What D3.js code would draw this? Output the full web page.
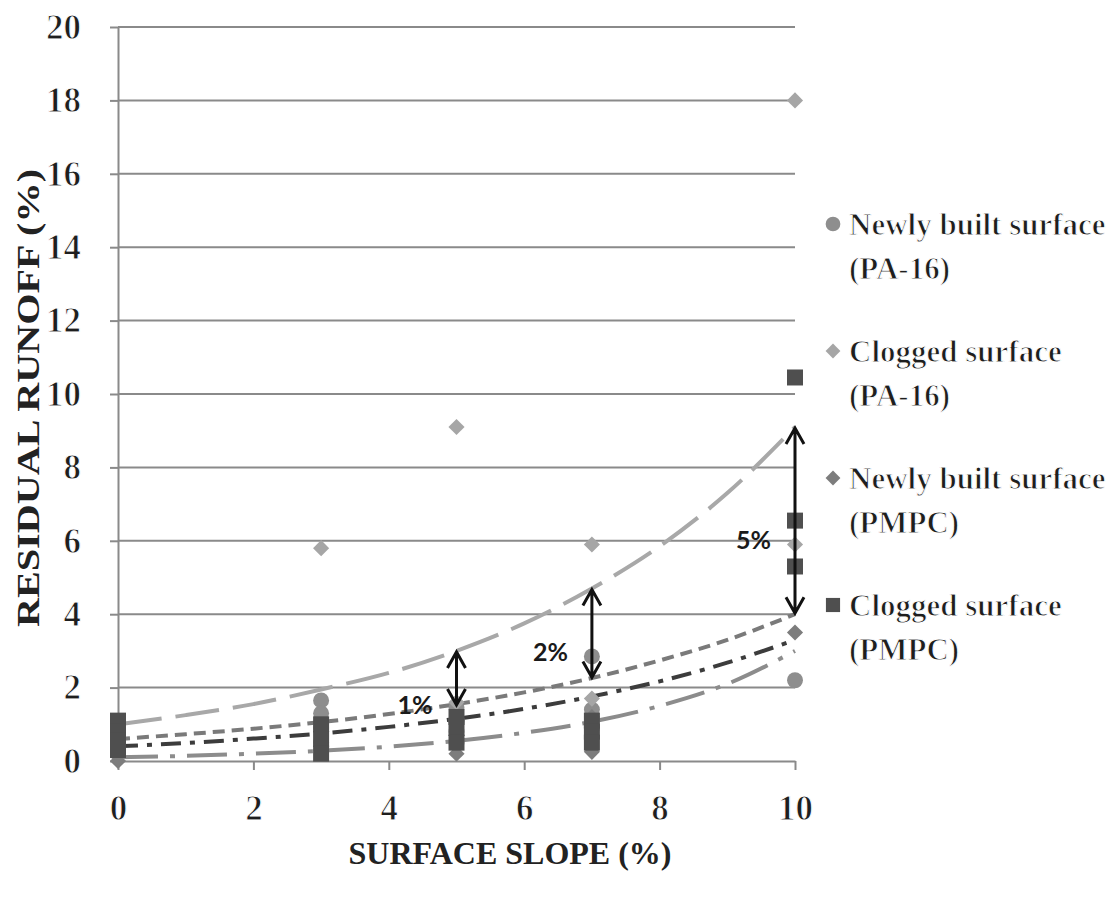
<!DOCTYPE html>
<html>
<head>
<meta charset="utf-8">
<script src="https://cdn.jsdelivr.net/npm/d3@7"></script>
<style>
    body { margin: 0; background: #fff; }
    .grid line { stroke: #8a8a8a; stroke-width: 2; }
    .axis path, .axis line { stroke: #8a8a8a; stroke-width: 2; }
    .trend { fill: none; stroke-width: 4; }
    .arrow { stroke: #111; stroke-width: 3; fill: none; }
</style>
</head>
<body>
<div id="chart"></div>
<script>

// tick values
var xTicks = [0, 2, 4, 6, 8, 10];
var yTicks = [0, 2, 4, 6, 8, 10, 12, 14, 16, 18, 20];

var newPA16X = [0, 0, 0, 3, 3, 3, 3, 5, 5, 5, 5, 7, 7, 7, 10];
var newPA16Y = [0.8, 0.5, 0.2, 1.65, 1.3, 0.9, 0.5, 1.45, 1.1, 0.8, 0.5, 2.85, 1.4, 0.9, 2.2];

var clogPA16X = [0, 0, 3, 3, 5, 5, 7, 7, 10, 10];
var clogPA16Y = [1.0, 0.9, 5.8, 0.9, 9.1, 1.6, 5.9, 1.7, 18.0, 5.9];

var newPMPCX = [0, 0, 3, 3, 5, 5, 7, 7, 10];
var newPMPCY = [0.4, 0.0, 0.8, 0.3, 0.7, 0.2, 1.2, 0.25, 3.5];

var clogPMPCX = [0, 0, 0, 0, 3, 3, 3, 5, 5, 5, 7, 7, 7, 10, 10, 10];
var clogPMPCY = [1.1, 0.8, 0.55, 0.3, 1.0, 0.6, 0.2, 1.2, 0.9, 0.5, 1.1, 0.8, 0.5, 10.45, 6.55, 5.3];

// trend lines at every slope value
var trendX = [0, 1, 2, 3, 4, 5, 6, 7, 8, 9, 10];
var trendNewPA16 = [0.1, 0.14, 0.2, 0.28, 0.39, 0.55, 0.77, 1.07, 1.5, 2.1, 3.0];
var trendClogPA16 = [1.0, 1.25, 1.55, 1.95, 2.4, 3.0, 3.75, 4.7, 5.85, 7.3, 9.1];
var trendNewPMPC = [0.6, 0.73, 0.88, 1.06, 1.28, 1.55, 1.87, 2.26, 2.74, 3.3, 4.0];
var trendClogPMPC = [0.4, 0.49, 0.61, 0.75, 0.93, 1.15, 1.42, 1.76, 2.17, 2.68, 3.3];

// difference arrows
var arrowX = [5, 7, 10];
var arrowTop = [3.0, 4.7, 9.1];
var arrowBottom = [1.5, 2.25, 4.0];
var arrowLabels = ["1%", "2%", "5%"];
var arrowLabelY = [1.53, 2.97, 6.02];

// legend
var legendLines = [
    ["Newly built surface", "(PA-16)"],
    ["Clogged surface", "(PA-16)"],
    ["Newly built surface", "(PMPC)"],
    ["Clogged surface", "(PMPC)"]
];

var SERIF = "'Liberation Serif', 'DejaVu Serif', serif";
var SANS = "Lato, 'Liberation Sans', Arial, sans-serif";


var svg = d3.select("#chart").append("svg")
    .attr("width", 1113)
    .attr("height", 900);

// only the bold serif face shows up here, so the plain texts use it
// with a thin white outline on top to make the strokes lighter
function plainSerif(sel, size) {
    sel.attr("font-family", SERIF)
        .attr("font-weight", "bold")
        .attr("font-size", size)
        .attr("fill", "#1e1e1e")
        .attr("stroke", "#fff")
        .attr("stroke-width", 1.0)
        .attr("stroke-linejoin", "round");
}

var margin = {top: 27, left: 118},
    width = 677,
    height = 734;

var g = svg.append("g").attr("transform", "translate(" + margin.left + "," + margin.top + ")");

var x = d3.scaleLinear().domain([0, 10]).range([0, width]);
var y = d3.scaleLinear().domain([0, 20]).range([height, 0]);

// horizontal grid lines
g.append("g")
    .attr("class", "grid")
    .selectAll("line")
    .data(yTicks.slice(1))
    .enter().append("line")
    .attr("x1", 0)
    .attr("x2", width)
    .attr("y1", function (d) { return y(d); })
    .attr("y2", function (d) { return y(d); });

// axes
var yAxis = g.append("g")
    .attr("class", "axis axis--y")
    .call(d3.axisLeft(y).tickValues(yTicks).tickSize(8).tickPadding(29).tickSizeOuter(0));

var xAxis = g.append("g")
    .attr("class", "axis axis--x")
    .attr("transform", "translate(0," + height + ")")
    .call(d3.axisBottom(x).tickValues(xTicks).tickSize(9).tickSizeOuter(0));
xAxis.selectAll("text").attr("y", 47).attr("dy", "0.34em");

// d3 puts font attributes on the axis groups, drop them so the text styles win
g.selectAll(".axis").attr("font-family", null).attr("font-size", null);
g.selectAll(".axis text").call(plainSerif, 35);

// trend lines
var trendLine = d3.line()
    .x(function (d) { return x(d[0]); })
    .y(function (d) { return y(d[1]); })
    .curve(d3.curveMonotoneX);

function zip(a, b) {
    return a.map(function (v, i) { return [v, b[i]]; });
}

var trends = [
    {values: trendNewPA16, color: "#8c8c8c", dash: "40,12,5,12"},
    {values: trendClogPA16, color: "#a8a8a8", dash: "44,14"},
    {values: trendNewPMPC, color: "#7a7a7a", dash: "12,7"},
    {values: trendClogPMPC, color: "#3c3c3c", dash: "20,9,5,9"}
];

trends.forEach(function (t) {
    g.append("path")
        .attr("class", "trend")
        .attr("d", trendLine(zip(trendX, t.values)))
        .attr("stroke", t.color)
        .attr("stroke-dasharray", t.dash);
});

// markers
var circle = d3.symbol().type(d3.symbolCircle).size(200);
var diamond = d3.symbol().type(d3.symbolSquare).size(130);
var square = d3.symbol().type(d3.symbolSquare).size(256);

var series = [
    {xs: newPA16X, ys: newPA16Y, shape: circle, rot: 0, color: "#8e8e8e"},
    {xs: clogPA16X, ys: clogPA16Y, shape: diamond, rot: 45, color: "#a6a6a6"},
    {xs: newPMPCX, ys: newPMPCY, shape: diamond, rot: 45, color: "#7d7d7d"},
    {xs: clogPMPCX, ys: clogPMPCY, shape: square, rot: 0, color: "#4f4f4f"}
];

series.forEach(function (s) {
    g.append("g").selectAll("path")
        .data(zip(s.xs, s.ys))
        .enter().append("path")
        .attr("d", s.shape())
        .attr("fill", s.color)
        .attr("transform", function (d) {
            return "translate(" + x(d[0]) + "," + y(d[1]) + ") rotate(" + s.rot + ")";
        });
});

// double headed arrows
function head(px, py, dir) {
    // dir = -1 points up, 1 points down
    return "M" + (px - 9) + "," + (py - dir * 16) + "L" + px + "," + py + "L" + (px + 9) + "," + (py - dir * 16);
}

arrowX.forEach(function (ax, i) {
    var px = x(ax), top = y(arrowTop[i]), bottom = y(arrowBottom[i]);
    g.append("path")
        .attr("class", "arrow")
        .attr("d", "M" + px + "," + (top + 1) + "L" + px + "," + (bottom - 1) +
            head(px, top + 1, -1) + head(px, bottom - 1, 1));
    g.append("text")
        .attr("x", px - 24)
        .attr("y", y(arrowLabelY[i]))
        .attr("dy", "0.35em")
        .attr("text-anchor", "end")
        .attr("font-family", SANS)
        .attr("font-weight", "bold")
        .attr("font-size", 25)
        .attr("fill", "#1a1a1a")
        .text(arrowLabels[i]);
});

// axis titles
svg.append("text")
    .attr("x", 510)
    .attr("y", 864)
    .attr("text-anchor", "middle")
    .attr("font-family", SERIF)
    .attr("font-weight", "bold")
    .attr("font-size", 32)
    .attr("fill", "#222")
    .text("SURFACE SLOPE (%)");

svg.append("text")
    .attr("transform", "translate(39,398) rotate(-90)")
    .attr("text-anchor", "middle")
    .attr("textLength", 458)
    .attr("lengthAdjust", "spacingAndGlyphs")
    .attr("font-family", SERIF)
    .attr("font-weight", "bold")
    .attr("font-size", 32)
    .attr("fill", "#222")
    .text("RESIDUAL RUNOFF (%)");

// legend
var legend = svg.append("g");

legendLines.forEach(function (lines, i) {
    var cy = 224 + i * 127;
    var s = series[i];
    legend.append("path")
        .attr("d", s.shape.size(i === 3 ? 200 : (s.rot ? 110 : 170))())
        .attr("fill", s.color)
        .attr("transform", "translate(833," + cy + ") rotate(" + s.rot + ")");
    lines.forEach(function (line, j) {
        legend.append("text")
            .attr("x", 849)
            .attr("y", cy + 11 + j * 44)
            .call(plainSerif, 31)
            .text(line);
    });
});

</script>
</body>
</html>
